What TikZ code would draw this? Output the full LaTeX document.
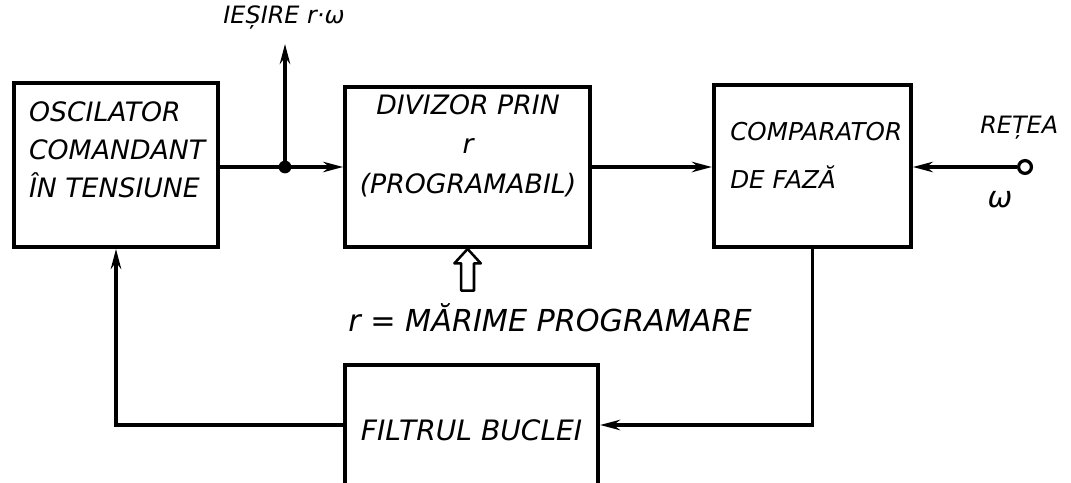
\documentclass[tikz,border=0pt]{standalone}
\usepackage{fontspec}
\setmainfont{DejaVu Sans}
\usepackage{tikz}
\usetikzlibrary{positioning,arrows.meta}

\begin{document}
\begin{tikzpicture}
  \tikzstyle{block} = [draw, line width=2.8pt, inner sep=0pt]
  \tikzstyle{blocktxt} = [font=\fontsize{19}{24}\selectfont\itshape, inner sep=0pt]
  \tikzstyle{smalltxt} = [font=\fontsize{17}{24}\selectfont\itshape, inner sep=0pt]
  \tikzstyle{wire} = [line width=2.3pt]
  \tikzstyle{flow} = [wire, -{Stealth[length=0.5cm,width=0.26cm]}]

  \useasboundingbox (0,0) rectangle (26.775,-12.075);

  \node[block, minimum width=5.1cm, minimum height=4.1cm] (osc) at (2.9,-4.125) {};
  \node[block, minimum width=6.125cm, minimum height=4cm] (div) at (11.69,-4.175) {};
  \node[block, minimum width=4.925cm, minimum height=4.05cm] (comp) at (20.31,-4.15) {};
  \node[block, minimum width=6.325cm, minimum height=3cm] (filt) at (11.79,-10.625) {};

  \node[blocktxt, align=left, anchor=west] (osctxt) at (0.72,-3.75)
    {OSCILATOR\\[3pt]COMANDANT\\[3pt]ÎN TENSIUNE};
  \node[blocktxt, align=center] (divtxt) at (11.7,-3.64)
    {DIVIZOR PRIN\\[4pt]r\\[4pt](PROGRAMABIL)};
  \node[blocktxt, font=\fontsize{17.5}{24}\selectfont\itshape, align=left, anchor=west]
    (comptxt) at (18.25,-3.875) {COMPARATOR\\[10pt]DE FAZĂ};
  \node[blocktxt, font=\fontsize{20}{24}\selectfont\itshape] (filttxt) at (11.79,-10.75)
    {FILTRUL BUCLEI};

  \coordinate (j) at (7.125,-4.175);
  \coordinate (out) at (7.125,-1.1);
  \fill (j) circle (0.16);
  \draw[flow] (j) -- (out);
  \node[smalltxt] (outlbl) at (7.1,-0.45) {IEȘIRE r·ω};

  \draw[wire] (osc.east |- j) -- (j);
  \draw[flow] (j) -- (div.west |- j);
  \draw[flow] (div.east) -- (comp.west |- div.east);

  \node[draw, circle, wire, minimum size=0.32cm, inner sep=0pt] (net) at (25.625,-4.175) {};
  \draw[flow] (net) -- (comp.east |- net);
  \node[smalltxt] (netlbl) at (25.48,-3.2) {REȚEA};
  \node[blocktxt, font=\fontsize{21}{24}\selectfont\itshape] (omega) at (25.0,-5.0) {ω};

  \draw[line width=1.8pt, line join=round] (div.south) -- ++(0.33,-0.36) -- ++(-0.17,0)
    -- ++(0,-0.68) -- ++(-0.32,0) -- ++(0,0.68) -- ++(-0.17,0) -- cycle;
  \node[blocktxt, font=\fontsize{21.5}{24}\selectfont\itshape] (proglbl) at (13.75,-7.95)
    {r = MĂRIME PROGRAMARE};

  \draw[flow] (comp.south) |- (filt.east);
  \draw[flow] (filt.west) -| (osc.south);
\end{tikzpicture}
\end{document}
